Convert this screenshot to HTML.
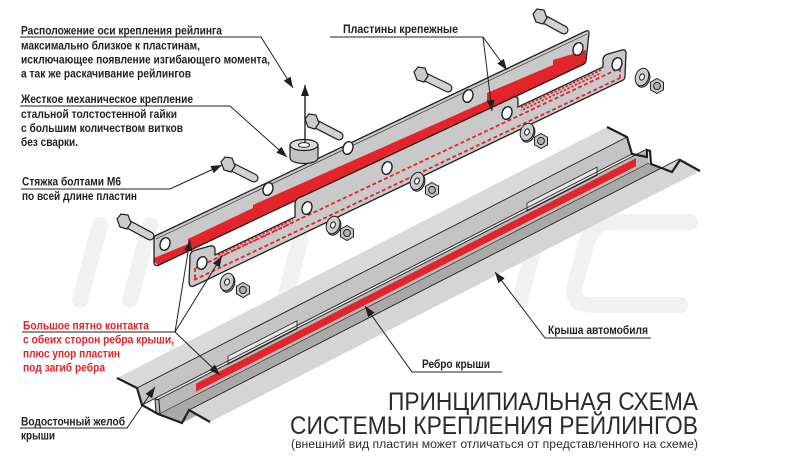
<!DOCTYPE html>
<html><head><meta charset="utf-8">
<style>
html,body{margin:0;padding:0;background:#fff;width:808px;height:463px;overflow:hidden;}
svg{display:block;}
.t{font-family:"Liberation Sans Narrow","Liberation Sans","DejaVu Sans",sans-serif;font-weight:bold;font-size:12px;fill:#231f20;}
.r{fill:#e3242b;}
.ti{font-family:"Liberation Sans","DejaVu Sans",sans-serif;fill:#2b2b2b;}
</style></head><body>
<svg width="808" height="463" viewBox="0 0 808 463" xmlns="http://www.w3.org/2000/svg">
<defs>
<marker id="a" markerUnits="userSpaceOnUse" markerWidth="11" markerHeight="8" refX="11" refY="4" orient="auto" viewBox="0 0 11 8" preserveAspectRatio="none"><path d="M0,0 L11,4 L0,8 Z" fill="#231f20"/></marker>
</defs>
<rect width="808" height="463" fill="#fff"/>

<!-- faint watermark shapes -->
<g fill="none" stroke="#f1f1f1" stroke-width="16" stroke-linecap="round" stroke-linejoin="round">
<path d="M100,225 L80,300"/>
<path d="M150,225 L130,300"/>
<path d="M300,240 L285,300"/>
<path d="M440,225 L420,300"/>
<path d="M540,225 L520,300"/>
<path d="M690,222 L612,222 Q592,222 586,245 L575,285 Q570,305 592,305 L680,305"/>
</g>

<!-- ROOF -->
<g>
<polygon points="117,378 137,388 627,137 607,127" fill="#d9d9d9"/>
<polygon points="137,388 142,405 632,154 627,137" fill="#c4c4c4"/>
<polygon points="159,414 182,423 672,172 649,163" fill="#a9a9a9"/>
<polygon points="157,400 159,414 649,163 647,149" fill="#b9b9b9"/>
<polygon points="142,405 157,400 647,149 632,154" fill="#eeeeee"/>
<polygon points="189,410 210,422 700,171 679,159" fill="#d5d5d5"/>
<polygon points="196,383.6 636,158.2 636,166.2 196,391.6" fill="#e3242b"/>
<polygon points="228,356.2 297,320.9 297,328.9 228,364.2" fill="#e6e6e6" stroke="#231f20" stroke-width="0.8"/>
<polygon points="527,203.1 597,167.2 597,175.2 527,211.1" fill="#e6e6e6" stroke="#231f20" stroke-width="0.8"/>
<g stroke="#231f20" stroke-width="0.9" fill="none">
<line x1="137" y1="388" x2="627" y2="137"/>
<line x1="142" y1="405" x2="632" y2="154"/>
<line x1="157" y1="400" x2="647" y2="149"/>
<line x1="159" y1="414" x2="649" y2="163" stroke-width="0.6"/>
<line x1="189" y1="410" x2="679" y2="159"/>
</g>
<polygon points="155,399 159,400 160,414 156,413" fill="#b5b5b5" stroke="#231f20" stroke-width="1"/>
<polyline points="117,378 137,388 142,405 158,414 182,423 189,410 210,422" fill="none" stroke="#231f20" stroke-width="2.2" stroke-linejoin="miter"/>
<polyline points="607,127 627,137 632,154 647,157 647,150 650,151 651,164 672,172 680,160 700,171" fill="none" stroke="#231f20" stroke-width="2.2"/>
</g>

<!-- UPPER PLATE -->
<path d="M155,236 L586,31 Q589,30 589,33 L586,61 Q585,64 582,65 L159,265 Q154,267 154,262 L154,239 Q154,237 155,236 Z" fill="#c9c9c9"/>
<polygon points="154,258 188,244 188,239 253,208 253,205 487,101 487,93 553,65 553,60 586,50 586,61 582,65 159,265 154,262" fill="#e3242b"/>
<path d="M155,236 L586,31 Q589,30 589,33 L586,61 Q585,64 582,65 L159,265 Q154,267 154,262 L154,239 Q154,237 155,236 Z" fill="none" stroke="#231f20" stroke-width="1.3"/>
<line x1="156" y1="239" x2="587" y2="34" stroke="#231f20" stroke-width="0.6"/>
<g fill="#fff" stroke="#231f20" stroke-width="1.4">
<ellipse cx="165" cy="244" rx="4.8" ry="6.5" transform="rotate(20 165 244)"/>
<ellipse cx="268" cy="189" rx="4.8" ry="6.5" transform="rotate(20 268 189)"/>
<ellipse cx="348" cy="148" rx="4.8" ry="6.5" transform="rotate(20 348 148)"/>
<ellipse cx="468" cy="96" rx="4.8" ry="6.5" transform="rotate(20 468 96)"/>
<ellipse cx="578" cy="49" rx="4.8" ry="6.5" transform="rotate(20 578 49)"/>
</g>

<!-- LOWER PLATE -->
<path d="M189,281 L190,257 Q190,251 196,250 L210,246 Q215,245 215,250 L215,255 L295,217 L295,203 Q296,198 301,197 L514,97 Q518,96 518,100 L518,107 L603,67 L603,59 Q604,55 608,54 L622,50 Q626,49 626,53 L625,76 Q625,80 621,81 L194,286 Q189,288 189,281 Z" fill="#c9c9c9" stroke="#231f20" stroke-width="1.3"/>
<g stroke="#e3242b" fill="none" stroke-width="1.8" stroke-dasharray="4 2.5">
<line x1="196" y1="268" x2="620" y2="68"/>
<line x1="194" y1="280" x2="620" y2="78"/>
<line x1="620" y1="68" x2="620" y2="78"/>
<line x1="195" y1="268" x2="195" y2="280"/>
</g>
<g stroke="#e3242b" fill="none" stroke-width="1.7" stroke-dasharray="2.5 1.6">
<line x1="218" y1="255" x2="293" y2="219.5"/>
<line x1="218" y1="258" x2="293" y2="222.5" stroke-dashoffset="2"/>
<line x1="521" y1="107.5" x2="601" y2="70"/>
<line x1="521" y1="110.5" x2="601" y2="73" stroke-dashoffset="2"/>
</g>
<g fill="#fff" stroke="#231f20" stroke-width="1.4">
<ellipse cx="202" cy="263" rx="4.8" ry="6.5" transform="rotate(20 202 263)"/>
<ellipse cx="307" cy="208" rx="4.8" ry="6.5" transform="rotate(20 307 208)"/>
<ellipse cx="387" cy="168" rx="4.8" ry="6.5" transform="rotate(20 387 168)"/>
<ellipse cx="507" cy="113" rx="4.8" ry="6.5" transform="rotate(20 507 113)"/>
<ellipse cx="617" cy="64" rx="4.8" ry="6.5" transform="rotate(20 617 64)"/>
</g>

<!-- NUT BLOCK -->
<path d="M290,145 L290,158 A14,5.5 0 0 0 318,158 L318,145 Z" fill="#c2c2c2" stroke="#231f20" stroke-width="1.2"/>
<ellipse cx="304" cy="145" rx="14" ry="5.5" fill="#dadada" stroke="#231f20" stroke-width="1.2"/>
<ellipse cx="304" cy="145" rx="5.5" ry="2.4" fill="#fff" stroke="#231f20" stroke-width="1"/>

<!-- BOLTS -->
<g>
<g stroke-linecap="round">
<line x1="540" y1="17" x2="564" y2="30" stroke="#231f20" stroke-width="9"/><line x1="540" y1="17" x2="564" y2="30" stroke="#d2d2d2" stroke-width="6.6"/>
<line x1="421" y1="75" x2="448" y2="88" stroke="#231f20" stroke-width="9"/><line x1="421" y1="75" x2="448" y2="88" stroke="#d2d2d2" stroke-width="6.6"/>
<line x1="312" y1="122" x2="339" y2="136" stroke="#231f20" stroke-width="9"/><line x1="312" y1="122" x2="339" y2="136" stroke="#d2d2d2" stroke-width="6.6"/>
<line x1="228" y1="165" x2="254" y2="178" stroke="#231f20" stroke-width="9"/><line x1="228" y1="165" x2="254" y2="178" stroke="#d2d2d2" stroke-width="6.6"/>
<line x1="124" y1="222" x2="150" y2="236" stroke="#231f20" stroke-width="9"/><line x1="124" y1="222" x2="150" y2="236" stroke="#d2d2d2" stroke-width="6.6"/>
</g>
<g fill="#cbcbcb" stroke="#231f20" stroke-width="1.2">
<polygon points="533,14 537,9 544,10 547,18 543,24 536,22"/>
<polygon points="414,72 418,67 425,68 428,76 424,82 417,80"/>
<polygon points="305,119 309,114 316,115 319,123 315,129 308,127"/>
<polygon points="221,162 225,157 232,158 235,166 231,172 224,170"/>
<polygon points="117,219 121,214 128,215 131,223 127,229 120,227"/>
</g>
</g>

<!-- WASHERS & NUTS -->
<g stroke="#231f20" stroke-width="1">
<g transform="translate(642,77) rotate(20)"><ellipse cx="1.5" cy="1" rx="6.5" ry="9" fill="#9a9a9a"/><ellipse rx="6.5" ry="9" fill="#cdcdcd"/><ellipse rx="2.3" ry="3.2" fill="#fff"/></g>
<g transform="translate(527,132) rotate(20)"><ellipse cx="1.5" cy="1" rx="6.5" ry="9" fill="#9a9a9a"/><ellipse rx="6.5" ry="9" fill="#cdcdcd"/><ellipse rx="2.3" ry="3.2" fill="#fff"/></g>
<g transform="translate(417,181) rotate(20)"><ellipse cx="1.5" cy="1" rx="6.5" ry="9" fill="#9a9a9a"/><ellipse rx="6.5" ry="9" fill="#cdcdcd"/><ellipse rx="2.3" ry="3.2" fill="#fff"/></g>
<g transform="translate(333,225) rotate(20)"><ellipse cx="1.5" cy="1" rx="6.5" ry="9" fill="#9a9a9a"/><ellipse rx="6.5" ry="9" fill="#cdcdcd"/><ellipse rx="2.3" ry="3.2" fill="#fff"/></g>
<g transform="translate(227,282) rotate(20)"><ellipse cx="1.5" cy="1" rx="6.5" ry="9" fill="#9a9a9a"/><ellipse rx="6.5" ry="9" fill="#cdcdcd"/><ellipse rx="2.3" ry="3.2" fill="#fff"/></g>
<g transform="translate(657,86)"><polygon points="0,-7.5 6.5,-3.75 6.5,3.75 0,7.5 -6.5,3.75 -6.5,-3.75" fill="#c8c8c8"/><ellipse rx="3.4" ry="3.6" fill="#b0b0b0"/></g>
<g transform="translate(541,141)"><polygon points="0,-7.5 6.5,-3.75 6.5,3.75 0,7.5 -6.5,3.75 -6.5,-3.75" fill="#c8c8c8"/><ellipse rx="3.4" ry="3.6" fill="#b0b0b0"/></g>
<g transform="translate(432,190)"><polygon points="0,-7.5 6.5,-3.75 6.5,3.75 0,7.5 -6.5,3.75 -6.5,-3.75" fill="#c8c8c8"/><ellipse rx="3.4" ry="3.6" fill="#b0b0b0"/></g>
<g transform="translate(347,233)"><polygon points="0,-7.5 6.5,-3.75 6.5,3.75 0,7.5 -6.5,3.75 -6.5,-3.75" fill="#c8c8c8"/><ellipse rx="3.4" ry="3.6" fill="#b0b0b0"/></g>
<g transform="translate(243,290)"><polygon points="0,-7.5 6.5,-3.75 6.5,3.75 0,7.5 -6.5,3.75 -6.5,-3.75" fill="#c8c8c8"/><ellipse rx="3.4" ry="3.6" fill="#b0b0b0"/></g>
</g>

<!-- LEADERS -->
<g fill="none" stroke="#231f20" stroke-width="1">
<polyline points="20,37 261,37 293,88" marker-end="url(#a)"/>
<line x1="305" y1="143" x2="305" y2="85" stroke-width="1.4" marker-end="url(#a)"/>
<polyline points="20,106 230,106 287,157" marker-end="url(#a)"/>
<polyline points="21,189 170,189 222,165" marker-end="url(#a)"/>
<polyline points="330,37 483,37 507,70" marker-end="url(#a)"/>
<line x1="483" y1="37" x2="492" y2="111" marker-end="url(#a)"/>
<line x1="22" y1="332" x2="175" y2="332"/>
<line x1="175" y1="332" x2="190" y2="240" marker-end="url(#a)"/>
<line x1="175" y1="332" x2="222" y2="256" marker-end="url(#a)"/>
<line x1="175" y1="332" x2="220" y2="375" marker-end="url(#a)"/>
<polyline points="20,428 127,428 155,387" marker-end="url(#a)"/>
<polyline points="502,372 412,372 365,306" marker-end="url(#a)"/>
<polyline points="651,338 545,338 495,272" marker-end="url(#a)"/>
</g>

<!-- TEXT -->
<g class="t">
<text x="21" y="34.5" textLength="201" lengthAdjust="spacingAndGlyphs">Расположение оси крепления рейлинга</text>
<text x="21" y="49.5" textLength="179" lengthAdjust="spacingAndGlyphs">максимально близкое к пластинам,</text>
<text x="21" y="63.5" textLength="249" lengthAdjust="spacingAndGlyphs">исключающее появление изгибающего момента,</text>
<text x="21" y="77.5" textLength="170" lengthAdjust="spacingAndGlyphs">а так же раскачивание рейлингов</text>
<text x="21" y="103" textLength="172" lengthAdjust="spacingAndGlyphs">Жесткое механическое крепление</text>
<text x="21" y="118" textLength="156" lengthAdjust="spacingAndGlyphs">стальной толстостенной гайки</text>
<text x="21" y="132" textLength="162" lengthAdjust="spacingAndGlyphs">с большим количеством витков</text>
<text x="21" y="146" textLength="57" lengthAdjust="spacingAndGlyphs">без сварки.</text>
<text x="22" y="185.5" textLength="99" lengthAdjust="spacingAndGlyphs">Стяжка болтами М6</text>
<text x="22" y="200" textLength="115" lengthAdjust="spacingAndGlyphs">по всей длине пластин</text>
<text x="343" y="33" textLength="115" lengthAdjust="spacingAndGlyphs">Пластины крепежные</text>
<text class="t r" x="23" y="329.5" textLength="126" lengthAdjust="spacingAndGlyphs">Большое пятно контакта</text>
<text class="t r" x="23" y="343.5" textLength="151" lengthAdjust="spacingAndGlyphs">с обеих сторон ребра крыши,</text>
<text class="t r" x="23" y="357.5" textLength="97" lengthAdjust="spacingAndGlyphs">плюс упор пластин</text>
<text class="t r" x="23" y="371.5" textLength="82" lengthAdjust="spacingAndGlyphs">под загиб ребра</text>
<text x="21" y="425.5" textLength="104" lengthAdjust="spacingAndGlyphs">Водосточный желоб</text>
<text x="21" y="439.5" textLength="34" lengthAdjust="spacingAndGlyphs">крыши</text>
<text x="422" y="368" textLength="68" lengthAdjust="spacingAndGlyphs">Ребро крыши</text>
<text x="548" y="334" textLength="100" lengthAdjust="spacingAndGlyphs">Крыша автомобиля</text>
</g>
<g class="ti">
<text x="388" y="410" font-size="25" textLength="310" lengthAdjust="spacingAndGlyphs">ПРИНЦИПИАЛЬНАЯ СХЕМА</text>
<text x="290" y="434" font-size="25" textLength="408" lengthAdjust="spacingAndGlyphs">СИСТЕМЫ КРЕПЛЕНИЯ РЕЙЛИНГОВ</text>
<text x="291" y="448" font-size="11.5" textLength="407" lengthAdjust="spacingAndGlyphs">(внешний вид пластин может отличаться от представленного на схеме)</text>
</g>
</svg>
</body></html>
